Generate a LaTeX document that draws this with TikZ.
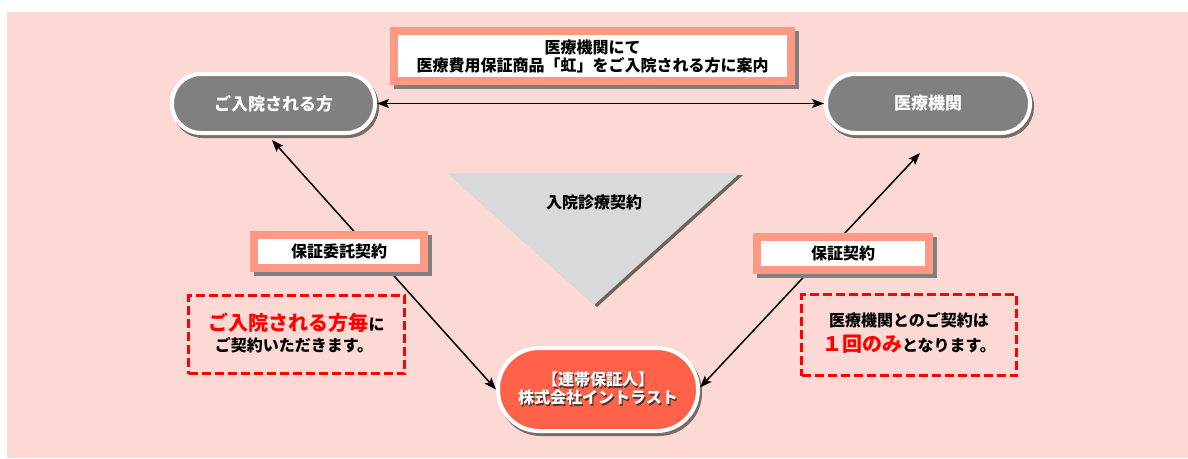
\documentclass[tikz,border=0pt]{standalone}
\usepackage{fontspec}
\setmainfont{Noto Sans CJK JP}
\usetikzlibrary{arrows.meta}
\definecolor{bgpink}{RGB}{252,217,212}
\definecolor{pillgray}{RGB}{128,128,128}
\definecolor{pillshadow}{RGB}{120,108,105}
\definecolor{pillred}{RGB}{255,98,72}
\definecolor{salmon}{RGB}{255,153,133}
\definecolor{boxshadow}{RGB}{128,128,128}
\definecolor{trigray}{RGB}{217,217,217}
\definecolor{trishadow}{RGB}{108,100,90}
\definecolor{dashred}{RGB}{255,0,0}
\definecolor{txtshadow}{RGB}{80,55,50}
\newcommand\shtext[1]{\makebox[0pt][l]{\kern1.2pt\raisebox{-1.2pt}{\textcolor{txtshadow}{#1}}}#1}
\tikzset{
  pillbase/.style={draw=white, line width=4pt, inner sep=0pt, outer sep=0pt,
    text=white, align=center,
    preaction={fill=pillshadow, draw=pillshadow, transform canvas={shift={(2pt,-3pt)}}}},
  graypill/.style={pillbase, fill=pillgray, rounded corners=29pt,
    minimum height=59pt, font=\bfseries\fontsize{17}{18}\selectfont},
  redpill/.style={pillbase, fill=pillred, rounded corners=41pt,
    minimum width=200pt, minimum height=83pt},
  labelbox/.style={draw=salmon, line width=8pt, fill=white, inner sep=0pt, outer sep=0pt,
    align=center,
    preaction={draw=boxshadow, fill=boxshadow, transform canvas={shift={(4pt,-4pt)}}}},
  dashbox/.style={draw=dashred, line width=3pt, dash pattern=on 9pt off 4pt, inner sep=0pt},
  conn/.style={draw=black, line width=1.5pt,
    {Stealth[length=12pt,width=9pt,inset=2.5pt]}-{Stealth[length=12pt,width=9pt,inset=2.5pt]}},
  jp16/.style={font=\bfseries\fontsize{16}{18}\selectfont},
  jpnote/.style={font=\bfseries\fontsize{16}{18}\selectfont},
}
\begin{document}
\begin{tikzpicture}[x=1pt,y=-1pt,jp16]
\useasboundingbox (0,0) rectangle (1188,458);
\fill[bgpink] (7,12) rectangle (1188,458);

% nodes
\node[graypill, minimum width=203pt] (patient) at (273.5,103.5) {ご入院される方};
\node[graypill, minimum width=204pt] (hospital) at (928,103.5) {医療機関};
\node[redpill] (guarantor) at (598,389.5) {\shtext{【連帯保証人】}\\\shtext{株式会社イントラスト}};

% connectors
\draw[conn] ([xshift=2pt]patient.east) -- ([xshift=-2pt]hospital.west);
\draw[conn] ([xshift=-1.5pt,yshift=-7pt]patient.south) -- ([xshift=-2pt]guarantor.west);
\draw[conn] ([xshift=-8pt,yshift=-20pt]hospital.south) -- ([xshift=2pt,yshift=2pt]guarantor.east);

% top box
\node[labelbox, minimum width=397pt, minimum height=50pt] (topbox) at (592.5,56)
  {医療機関にて\\医療費用保証商品「虹」をご入院される方に案内};

% triangle
\fill[trishadow] (450,175) -- (743,175) -- (597,307) -- cycle;
\fill[trigray] (447,173) -- (740,173) -- (594,305) -- cycle;
\node (trilabel) at (594,202) {入院診療契約};

% contract labels
\node[labelbox, minimum width=170pt, minimum height=33pt] (lefttag) at (339,251.5) {保証委託契約};
\node[labelbox, minimum width=172pt, minimum height=33pt] (righttag) at (843,253.5) {保証契約};

% dashed notes
\node[dashbox, minimum width=216pt, minimum height=78pt] (leftnote) at (296.5,334.5) {};
\node[dashbox, minimum width=215pt, minimum height=81pt] (rightnote) at (909,335) {};
\node[jpnote, anchor=base] (lt1) at (296.5,330.5) {\textcolor{dashred}{\fontsize{20}{20}\selectfont ご入院される方毎}に};
\node[jpnote, anchor=base] (lt2) at (294,351) {ご契約いただきます。};
\node[jpnote, anchor=base] (rt1) at (909,326) {医療機関とのご契約は};
\node[jpnote, anchor=base] (rt2) at (909,351.5) {\textcolor{dashred}{\fontsize{20}{20}\selectfont １回のみ}となります。};
\end{tikzpicture}
\end{document}
